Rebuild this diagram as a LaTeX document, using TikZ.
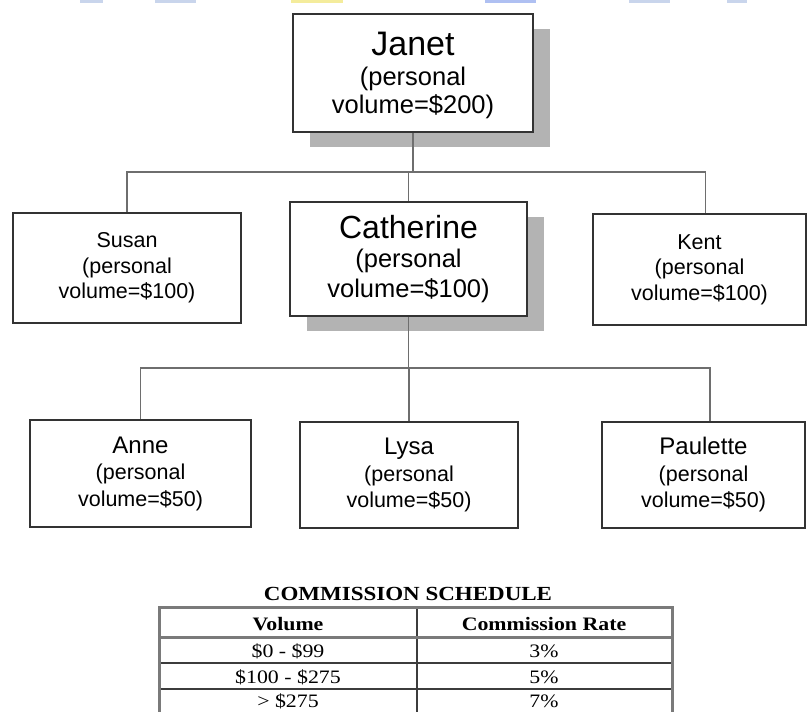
\documentclass[tikz,border=0pt]{standalone}
\usepackage{fontspec}
\setmainfont{Liberation Sans}
\newfontfamily\tabfont[FakeStretch=1.15]{Liberation Serif}
\usetikzlibrary{shadows}
\definecolor{boxline}{HTML}{333333}
\definecolor{conn}{HTML}{6E6E6E}
\definecolor{shade}{HTML}{B3B3B3}
\definecolor{tabgray}{HTML}{7A7A7A}
\definecolor{tabline}{HTML}{3C3C3C}
\definecolor{barblue}{HTML}{C9D5EC}
\definecolor{baryellow}{HTML}{F4EC9C}
\definecolor{barblue2}{HTML}{AFC0F2}
\begin{document}
\begin{tikzpicture}[x=1pt,y=-1pt,
  person/.style={draw=boxline,line width=1.8pt,fill=white,align=center,inner sep=0pt},
  bigshadow/.style={drop shadow={shadow xshift=17pt,shadow yshift=-15pt,fill=shade,opacity=1}},
  topperson/.style={person,font=\fontsize{25.5}{29.5}\selectfont},
  midperson/.style={person,font=\fontsize{21.5}{25.5}\selectfont},
  lowperson/.style={person,font=\fontsize{21.5}{26.5}\selectfont},
  linetext/.style={anchor=base,inner sep=0pt},
  link/.style={draw=conn,line width=1.2pt},
  topbar/.style={fill=#1,draw=none},
  tabtext/.style={anchor=base,inner sep=0pt,font=\tabfont\fontsize{19}{22}\selectfont},
  tabhead/.style={anchor=base,inner sep=0pt,font=\tabfont\bfseries\fontsize{19}{22}\selectfont}]
\useasboundingbox (0,0) rectangle (807,712);
\clip (0,0) rectangle (807,712);
\fill[white] (0,0) rectangle (807,712);

% faint cut-off bars at the top edge
\path[topbar=barblue] (80,0) rectangle (103,2.5);
\path[topbar=barblue] (155,0) rectangle (196,2.5);
\path[topbar=baryellow] (291,0) rectangle (343,2.5);
\path[topbar=barblue2] (485,0) rectangle (536,2.5);
\path[topbar=barblue] (629,0) rectangle (670,2.5);
\path[topbar=barblue] (727,0) rectangle (747,2.5);

% people
\node[person,bigshadow,minimum width=240pt,minimum height=118pt] (janet) at (413,73) {};
\node[linetext,font=\fontsize{34}{38}\selectfont] (janetname) at (413,56) {Janet};
\node[linetext,font=\fontsize{25.5}{29.5}\selectfont] (janetp) at (413,85) {(personal};
\node[linetext,font=\fontsize{25.5}{29.5}\selectfont] (janetv) at (413,113) {volume=\$200)};
\node[topperson,bigshadow,minimum width=237pt,minimum height=114pt] (catherine) at (408.5,259)
  {{\fontsize{32}{36}\selectfont Catherine}\\(personal\\volume=\$100)};
\node[midperson,minimum width=228pt,minimum height=110pt] (susan) at (127,268)
  {Susan\\(personal\\volume=\$100)};
\node[midperson,minimum width=213pt,minimum height=111pt] (kent) at (699.5,269.5)
  {Kent\\(personal\\volume=\$100)};
\node[lowperson,minimum width=221pt,minimum height=107pt] (anne) at (140.5,473.5)
  {{\fontsize{24}{27}\selectfont Anne}\\(personal\\volume=\$50)};
\node[lowperson,minimum width=218pt,minimum height=106pt] (lysa) at (409,475)
  {{\fontsize{24}{27}\selectfont Lysa}\\(personal\\volume=\$50)};
\node[lowperson,minimum width=203pt,minimum height=106pt] (paulette) at (703.5,475)
  {{\fontsize{24}{27}\selectfont Paulette}\\(personal\\volume=\$50)};

% connectors
\coordinate (j1) at (412,172);
\coordinate (c1) at (409,368);
\draw[link] (janet.south) -- (janet.south |- j1);
\draw[link] (susan.north) -- (susan.north |- j1) -- ([xshift=6pt]kent.north |- j1) -- ([xshift=6pt]kent.north);
\draw[link] (catherine.north) -- (catherine.north |- j1);
\draw[link] (catherine.south) -- (catherine.south |- c1);
\draw[link] (anne.north) -- (anne.north |- c1) -- ([xshift=6.5pt]paulette.north |- c1) -- ([xshift=6.5pt]paulette.north);
\draw[link] (lysa.north) -- (lysa.north |- c1);

% commission schedule
\node[anchor=base,inner sep=0pt,font=\tabfont\bfseries\fontsize{20}{23}\selectfont] (title) at (408,600) {COMMISSION SCHEDULE};
\draw[tabline,line width=1.3pt] (159,663) -- (672,663);
\draw[tabline,line width=1.3pt] (159,689) -- (672,689);
\draw[tabline,line width=1.3pt] (417,607) -- (417,720);
\draw[tabgray,line width=3pt] (159,637) -- (672,637);
\draw[tabgray,line width=3pt] (159,607) rectangle (672,722);
\node[tabhead] (hvol) at (288,630) {Volume};
\node[tabhead] (hrate) at (544,630) {Commission Rate};
\node[tabtext] (v1) at (288,657) {\$0 - \$99};
\node[tabtext] (r1) at (544,657) {3\%};
\node[tabtext] (v2) at (288,683) {\$100 - \$275};
\node[tabtext] (r2) at (544,683) {5\%};
\node[tabtext] (v3) at (288,707) {> \$275};
\node[tabtext] (r3) at (544,707) {7\%};
\end{tikzpicture}
\end{document}
